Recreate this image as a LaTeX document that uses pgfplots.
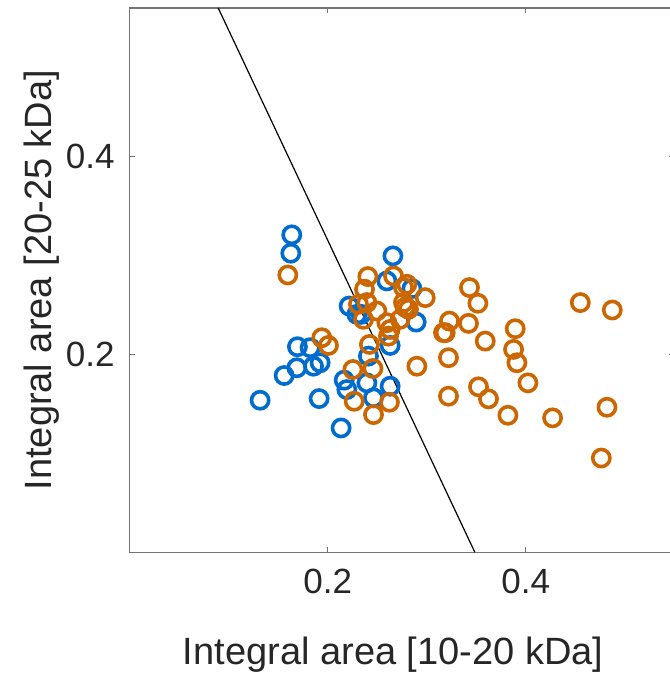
\documentclass[border=0pt]{standalone}
\usepackage{fontspec}
\setmainfont{Liberation Sans}
\usepackage{pgfplots}
\pgfplotsset{compat=1.18}
\definecolor{mblue}{RGB}{0,108,208}
\definecolor{morange}{RGB}{204,102,0}
\definecolor{axgray}{RGB}{38,38,38}
\begin{document}
\begin{tikzpicture}
\begin{axis}[
  at={(0,0)}, anchor=south west,
  scale only axis,
  width=272.25pt, height=272pt,
  xmin=0, xmax=0.55, ymin=0, ymax=0.55,
  xtick={0.2,0.4}, ytick={0.2,0.4},
  xticklabels={0.2,0.4}, yticklabels={0.2,0.4},
  tick align=inside,
  major tick length=2.6pt,
  axis line style={draw=gray!90!black, line width=0.7pt},
  every tick/.style={gray!90!black, line width=0.6pt},
  /pgf/number format/assume math mode=true,
  tick label style={font=\fontsize{17.5}{20}\selectfont, text=axgray},
  xticklabel style={yshift=-5pt},
  yticklabel style={xshift=-4pt},
  label style={font=\fontsize{19}{22}\selectfont, text=axgray},
  xlabel={Integral area [10-20 kDa]},
  ylabel={Integral area [20-25 kDa]},
  xlabel style={at={(axis description cs:0.484,-0.189)}, anchor=center},
  ylabel style={at={(axis description cs:-0.161,0.5)}, anchor=center},
  clip=true,
]
\addplot[black, line width=0.6pt] coordinates {(0.0895,0.55) (0.3486,0)};
\addplot[only marks, mark=o, mark size=4.3pt, mblue, mark options={line width=1.8pt}] coordinates {
(0.1638,0.3208) (0.1628,0.3022) (0.2659,0.2995) (0.2598,0.2742) (0.2851,0.2665)
(0.2217,0.2488) (0.2295,0.2404) (0.2894,0.2326) (0.2631,0.2090) (0.2412,0.1982)
(0.1695,0.2077) (0.1823,0.2067) (0.1689,0.1864) (0.1561,0.1786) (0.1857,0.1880)
(0.1924,0.1915) (0.1318,0.1536) (0.1914,0.1553) (0.2167,0.1739) (0.2194,0.1644)
(0.2396,0.1712) (0.2631,0.1678) (0.2463,0.1560) (0.2136,0.1256) (0.2338,0.2404)
};
\addplot[only marks, mark=o, mark size=4.3pt, morange, mark options={line width=1.8pt}] coordinates {
(0.1598,0.2802) (0.2406,0.2786) (0.2665,0.2792) (0.2372,0.2658) (0.2766,0.2675)
(0.2985,0.2573) (0.2311,0.2506) (0.2396,0.2523) (0.2497,0.2438) (0.2362,0.2354)
(0.2766,0.2523) (0.2816,0.2455) (0.2732,0.2354) (0.2598,0.2320) (0.2631,0.2252)
(0.2614,0.2184) (0.1941,0.2168) (0.2008,0.2090) (0.2422,0.2100) (0.2255,0.1847)
(0.2457,0.1857) (0.2268,0.1526) (0.2624,0.1516) (0.2463,0.1391) (0.2901,0.1880)
(0.3187,0.2219) (0.3220,0.1966) (0.3220,0.1577) (0.3432,0.2675) (0.3517,0.2516)
(0.2800,0.2708) (0.2783,0.2475) (0.3230,0.2336) (0.3170,0.2219) (0.3422,0.2313)
(0.3591,0.2134) (0.3894,0.2259) (0.3877,0.2050) (0.3911,0.1915) (0.4022,0.1712)
(0.3523,0.1672) (0.3624,0.1550) (0.3820,0.1384) (0.4271,0.1358) (0.4551,0.2523)
(0.4874,0.2448) (0.4820,0.1465) (0.4763,0.0952)
};
\end{axis}
\pgfresetboundingbox
\useasboundingbox (-64.75pt,-60.35pt) rectangle (269.75pt,276pt);
\end{tikzpicture}
\end{document}
